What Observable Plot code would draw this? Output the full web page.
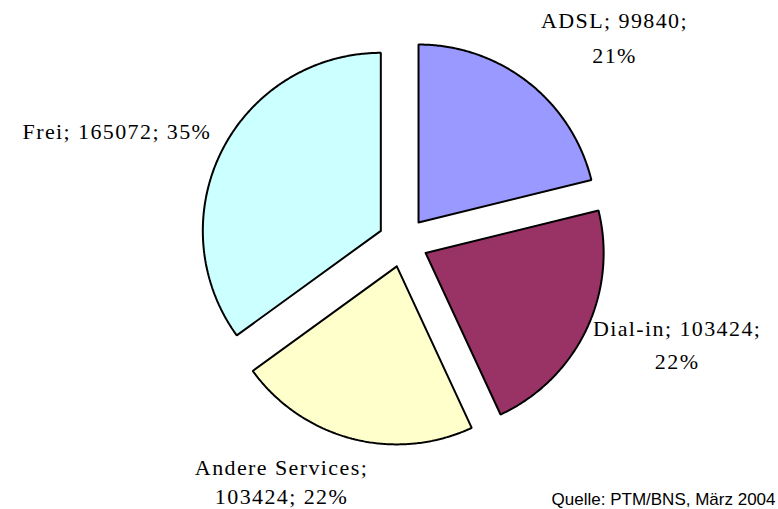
<!DOCTYPE html>
<html>
<head>
<meta charset="utf-8">
<script src="https://cdn.jsdelivr.net/npm/d3@7"></script>
<script src="https://cdn.jsdelivr.net/npm/@observablehq/plot@0.6"></script>
<style>
  html, body { margin: 0; padding: 0; background: #fff; }
  #chart { width: 778px; height: 509px; }
  .lbl text { letter-spacing: 1.4px; }
</style>
</head>
<body>
<div id="chart"></div>
<script>
// ---- data ----
const categories = ["ADSL", "Dial-in", "Andere Services", "Frei"];
const values = [99840, 103424, 103424, 165072];
const colors = ["#9999FF", "#993366", "#FFFFCC", "#CCFFFF"];
const sourceNote = "Quelle: PTM/BNS, März 2004";

// ---- layout (style) ----
const W = 778, H = 509;
const cx = 402.6, cy = 241.7, R = 178, explode = 25, labelGap = 10;
const labelStyle = {
  "ADSL":            {anchor: "middle", dx: 80,  dy: -40, lh: 1.55, breakAfter: 2},
  "Dial-in":         {anchor: "middle", dx: 82,  dy: 8,   lh: 1.5,  breakAfter: 2},
  "Andere Services": {anchor: "middle", dx: -68, dy: 32,  lh: 1.3,  breakAfter: 1},
  "Frei":            {anchor: "end",    dx: -2,  dy: -13, lh: 1,    breakAfter: 0}
};

const total = d3.sum(values);
const arcs = d3.pie().sort(null).startAngle(0).endAngle(2 * Math.PI)(values);

// polygon points for each exploded slice
const pts = [];
const labels = [];
arcs.forEach((a, i) => {
  const cat = categories[i];
  const mid = (a.startAngle + a.endAngle) / 2;
  const ox = cx + explode * Math.sin(mid);
  const oy = cy - explode * Math.cos(mid);
  pts.push({cat, x: ox, y: oy});
  const n = Math.max(2, Math.ceil((a.endAngle - a.startAngle) / (Math.PI / 360)));
  for (let k = 0; k <= n; k++) {
    const t = a.startAngle + (a.endAngle - a.startAngle) * k / n;
    pts.push({cat, x: ox + R * Math.sin(t), y: oy - R * Math.cos(t)});
  }
  pts.push({cat, x: ox, y: oy});
  const pct = Math.round(values[i] / total * 100) + "%";
  const parts = [cat, String(values[i]), pct];
  const s = labelStyle[cat];
  let text;
  if (s.breakAfter === 0) text = parts.join("; ");
  else text = parts.slice(0, s.breakAfter).join("; ") + ";\n" + parts.slice(s.breakAfter).join("; ");
  const lr = R + explode + labelGap;
  labels.push({cat, text, x: cx + lr * Math.sin(mid), y: cy - lr * Math.cos(mid)});
});

const labelMarks = labels.map(l => {
  const s = labelStyle[l.cat];
  return Plot.text([l], {
    x: "x", y: "y", text: "text",
    textAnchor: s.anchor, lineAnchor: "middle", lineHeight: s.lh,
    dx: s.dx, dy: s.dy,
    fontFamily: "Liberation Serif", fontSize: 22, fill: "#000",
    className: "lbl"
  });
});

const chart = Plot.plot({
  width: W, height: H,
  margin: 0,
  x: {domain: [0, W], range: [0, W], axis: null},
  y: {domain: [0, H], range: [0, H], axis: null},
  color: {domain: categories, range: colors},
  style: {background: "#fff", overflow: "visible"},
  marks: [
    Plot.line(pts, {
      x: "x", y: "y", z: "cat", fill: "cat",
      stroke: "#000", strokeWidth: 2, strokeLinejoin: "miter", curve: "linear"
    }),
    ...labelMarks,
    Plot.text([sourceNote], {
      text: d => d, frameAnchor: "bottom-right", textAnchor: "end",
      lineAnchor: "bottom", dx: -3, dy: -5,
      fontFamily: "Liberation Sans", fontSize: 17, fill: "#000"
    })
  ]
});
document.getElementById("chart").appendChild(chart);
</script>
</body>
</html>
